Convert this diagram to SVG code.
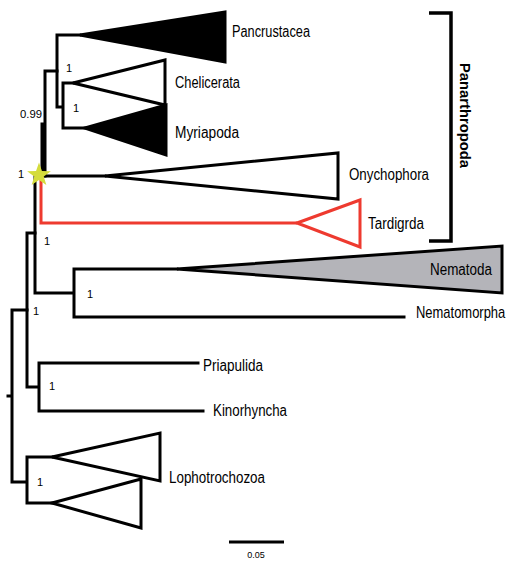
<svg xmlns="http://www.w3.org/2000/svg" width="510" height="563" viewBox="0 0 510 563">
<style>
.br{fill:none;stroke:#000;stroke-width:3;stroke-linecap:square;stroke-linejoin:miter}
.red{fill:none;stroke:#ee3a2f;stroke-width:3;stroke-linejoin:miter}
.tri{stroke:#000;stroke-width:3;stroke-linejoin:miter}
.lab{font-family:"Liberation Sans Narrow","Liberation Sans",Arial,sans-serif;font-size:16px;fill:#000}
.sup{font-family:"Liberation Sans",Arial,sans-serif;font-size:11px;fill:#000}
</style>
<rect width="510" height="563" fill="#fff"/>
<g id="connectors">
<path class="br" d="M57,35 H80 M57,35 V107 H63 M63,83 V128 M63,83 H73 M63,128 H85"/>
<path class="br" d="M45,71 H57 M45,71 V176 M42,124 V176"/>
<path class="br" d="M40,176 H105"/>
<path class="br" d="M35,176 V293 H74 M74,269 V317 M74,269 H177 M74,317 H404"/>
<path class="br" d="M27,233 H35 M27,233 V387 H39 M39,363 V411 M39,363 H198 M39,411 H203"/>
<path class="br" d="M12,310 H27 M12,310 V482 H27 M8,396 H12 M27,457 V503 M27,457 H52 M27,503 H52"/>
<path class="red" d="M41,177 V223 H297"/>
</g>
<g id="Pancrustacea">
<polygon class="tri" points="80,35 225,12 225,62" fill="#000"/>
<text class="lab" x="232" y="37" textLength="78" lengthAdjust="spacingAndGlyphs">Pancrustacea</text>
</g>
<g id="Chelicerata">
<polygon class="tri" points="73,83 165,60 165,105" fill="#fff"/>
<text class="lab" x="175" y="88" textLength="65" lengthAdjust="spacingAndGlyphs">Chelicerata</text>
</g>
<g id="Myriapoda">
<polygon class="tri" points="85,128 166,105 166,155" fill="#000"/>
<text class="lab" x="175" y="138" textLength="64" lengthAdjust="spacingAndGlyphs">Myriapoda</text>
</g>
<g id="Onychophora">
<polygon class="tri" points="105,176 338,153 338,199" fill="#fff"/>
<text class="lab" x="349" y="180" textLength="80" lengthAdjust="spacingAndGlyphs">Onychophora</text>
</g>
<g id="Tardigrda">
<polygon points="297,223 360,200 360,247" fill="#fff" stroke="#ee3a2f" stroke-width="3" stroke-linejoin="miter"/>
<text class="lab" x="368" y="229" textLength="56" lengthAdjust="spacingAndGlyphs">Tardigrda</text>
</g>
<g id="Panarthropoda">
<path d="M429,13 H451 V241 H429" fill="none" stroke="#000" stroke-width="3.5"/>
<text x="460" y="63" transform="rotate(90 460 63)" font-family="'Liberation Sans Narrow','Liberation Sans',Arial,sans-serif" font-size="15" font-weight="bold" textLength="105" lengthAdjust="spacingAndGlyphs">Panarthropoda</text>
</g>
<g id="Nematoda">
<polygon class="tri" points="177,269 502,246 502,293" fill="#b4b4b9"/>
<text class="lab" x="430" y="275" textLength="62" lengthAdjust="spacingAndGlyphs">Nematoda</text>
</g>
<g id="Nematomorpha">
<text class="lab" x="0" y="0" transform="translate(416 318) scale(0.81 1)">Nematomorpha</text>
</g>
<g id="Priapulida">
<text class="lab" x="203" y="371" textLength="60" lengthAdjust="spacingAndGlyphs">Priapulida</text>
</g>
<g id="Kinorhyncha">
<text class="lab" x="213" y="416" textLength="74" lengthAdjust="spacingAndGlyphs">Kinorhyncha</text>
</g>
<g id="Lophotrochozoa">
<polygon class="tri" points="52,457 160,433 160,481" fill="#fff"/>
<polygon class="tri" points="52,503 141,479 141,528" fill="#fff"/>
<text class="lab" x="169" y="483" textLength="96" lengthAdjust="spacingAndGlyphs">Lophotrochozoa</text>
</g>
<g id="star">
<polygon points="39,162.5 41.94,170.95 50.89,171.14 43.76,176.55 46.35,185.11 39,180 31.65,185.11 34.24,176.55 27.11,171.14 36.06,170.95" fill="#d4dc3c"/>
</g>
<g id="supports">
<text class="sup" x="66" y="72">1</text>
<text class="sup" x="73" y="112">1</text>
<text class="sup" x="20" y="118" textLength="22" lengthAdjust="spacingAndGlyphs">0.99</text>
<text class="sup" x="18" y="178">1</text>
<text class="sup" x="44" y="245">1</text>
<text class="sup" x="87" y="298">1</text>
<text class="sup" x="33" y="315">1</text>
<text class="sup" x="49" y="390">1</text>
<text class="sup" x="37" y="486">1</text>
</g>
<g id="scalebar">
<path d="M229,542 H284" stroke="#000" stroke-width="3"/>
<text x="256" y="558" text-anchor="middle" font-family="'Liberation Sans Narrow','Liberation Sans',Arial,sans-serif" font-size="9">0.05</text>
</g>
</svg>
